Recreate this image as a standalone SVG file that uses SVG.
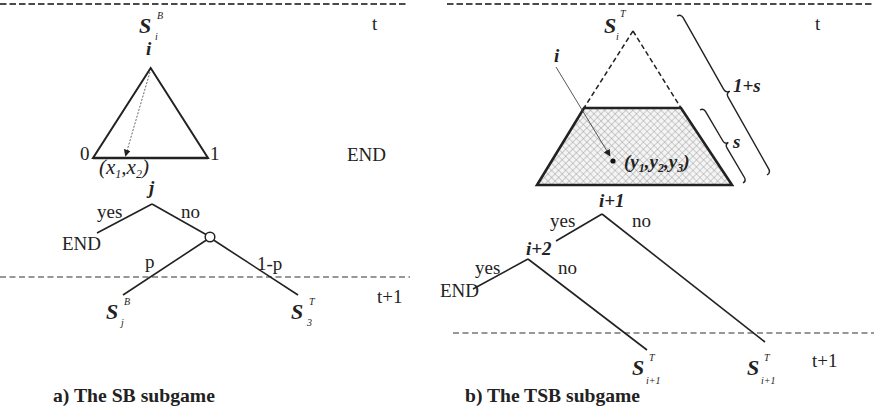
<svg xmlns="http://www.w3.org/2000/svg" width="874" height="412" viewBox="0 0 874 412">
  <style>
    .t { font-family: "Liberation Serif", "DejaVu Serif", serif; font-size: 19px; fill: #222; }
    .bi { font-family: "Liberation Serif", "DejaVu Serif", serif; font-size: 19px; font-weight: bold; font-style: italic; fill: #222; }
    .it { font-family: "Liberation Serif", "DejaVu Serif", serif; font-size: 21px; font-style: italic; fill: #222; }
    .st { font-family: "Liberation Serif", "DejaVu Serif", serif; font-size: 22px; font-weight: bold; font-style: italic; fill: #222; }
    .sm { font-family: "Liberation Serif", "DejaVu Serif", serif; font-size: 10px; font-style: italic; fill: #222; }
    .cap { font-family: "Liberation Serif", "DejaVu Serif", serif; font-size: 19px; font-weight: bold; fill: #222; }
    .dash-top { stroke: #111; stroke-width: 1.6; stroke-dasharray: 6.5 3; fill: none; }
    .dash-bot { stroke: #333; stroke-width: 1.2; stroke-dasharray: 6 3.5; fill: none; }
    .edge { stroke: #222; stroke-width: 1.6; fill: none; }
    .shape { stroke: #222; stroke-width: 2; fill: none; }
    .brace { stroke: #222; stroke-width: 1.4; fill: none; }
  </style>
  <defs>
    <marker id="arr" viewBox="0 0 10 10" refX="9" refY="5" markerWidth="7" markerHeight="7" markerUnits="userSpaceOnUse" orient="auto">
      <path d="M0,0 L10,5 L0,10 z" fill="#222"/>
    </marker>
    <pattern id="hatch" width="5" height="5" patternUnits="userSpaceOnUse" patternTransform="rotate(45)">
      <rect width="5" height="5" fill="#f4f4f4"/>
      <path d="M0,0 H5 M0,0 V5" stroke="#9a9a9a" stroke-width="0.9"/>
    </pattern>
  </defs>

  <!-- time lines -->
  <g id="timelines">
    <line class="dash-top" x1="0" y1="4" x2="408" y2="4"/>
    <line class="dash-top" x1="447" y1="4" x2="874" y2="4"/>
    <line class="dash-bot" x1="0" y1="277" x2="410" y2="277"/>
    <line class="dash-bot" x1="453" y1="333" x2="874" y2="333"/>
    <text class="t" x="372" y="30">t</text>
    <text class="t" x="377" y="303">t+1</text>
    <text class="t" x="815" y="30">t</text>
    <text class="t" x="812" y="367">t+1</text>
  </g>

  <!-- ===== Panel a ===== -->
  <g id="a-state-SiB">
    <text class="st" x="139" y="33">S</text>
    <text class="sm" x="157" y="19">B</text>
    <text class="sm" x="155" y="40">i</text>
  </g>
  <g id="a-triangle">
    <text class="bi" x="146" y="55">i</text>
    <path class="shape" d="M150.7,68 L93,158 L208,158 Z"/>
    <line x1="93" y1="158" x2="208" y2="158" stroke="#222" stroke-width="2.6"/>
    <text class="t" x="80" y="160">0</text>
    <text class="t" x="210" y="160">1</text>
    <line x1="150" y1="72" x2="125.5" y2="156" stroke="#555" stroke-width="0.9" stroke-dasharray="2 1.5" marker-end="url(#arr)"/>
    <text class="it" x="99" y="174">(x<tspan font-size="12" dy="4">1</tspan><tspan dy="-4">,x</tspan><tspan font-size="12" dy="4">2</tspan><tspan dy="-4">)</tspan></text>
  </g>
  <g id="a-end-top">
    <text class="t" x="347" y="161">END</text>
  </g>
  <g id="a-node-j">
    <text class="bi" x="149" y="194">j</text>
  </g>
  <g id="a-end">
    <text class="t" x="62" y="250">END</text>
  </g>
  <g id="a-chance">
    <circle cx="210" cy="237" r="4.8" fill="#fff" stroke="#222" stroke-width="1.5"/>
  </g>
  <g id="a-state-SjB">
    <text class="st" x="106" y="319">S</text>
    <text class="sm" x="124" y="305">B</text>
    <text class="sm" x="121" y="326">j</text>
  </g>
  <g id="a-state-S3T">
    <text class="st" x="291" y="319">S</text>
    <text class="sm" x="309" y="305">T</text>
    <text class="sm" x="307" y="326">3</text>
  </g>

  <!-- ===== Panel b ===== -->
  <g id="b-state-SiT">
    <text class="st" x="604" y="33">S</text>
    <text class="sm" x="620" y="17">T</text>
    <text class="sm" x="616" y="40">i</text>
  </g>
  <g id="b-trapezoid">
    <path d="M633,31 L584,108 M633,31 L681,108" stroke="#222" stroke-width="1.5" stroke-dasharray="5 3" fill="none"/>
    <path d="M584,108 L681,108 L732,185 L537,185 Z" fill="url(#hatch)" stroke="#222" stroke-width="2.6"/>
    <text class="bi" x="554" y="62">i</text>
    <line x1="556" y1="67" x2="610" y2="156" stroke="#444" stroke-width="0.9" marker-end="url(#arr)"/>
    <circle cx="613" cy="161" r="2.6" fill="#111"/>
    <text class="bi" x="624" y="168" font-size="21">(y<tspan font-size="12" dy="4">1</tspan><tspan dy="-4">,y</tspan><tspan font-size="12" dy="4">2</tspan><tspan dy="-4">,y</tspan><tspan font-size="12" dy="4">3</tspan><tspan dy="-4">)</tspan></text>
  </g>
  <g id="b-brace-1s">
    <path class="brace" transform="translate(677,16) rotate(60.5)" d="M0,0 Q0,-4.5 4.5,-4.5 L86.85,-4.5 Q91.35,-4.5 91.35,-9 Q91.35,-4.5 95.85,-4.5 L178.2,-4.5 Q182.7,-4.5 182.7,0"/>
    <text class="bi" x="733" y="92">1+s</text>
  </g>
  <g id="b-brace-s">
    <path class="brace" transform="translate(700,110) rotate(59.5)" d="M0,0 Q0,-4 4,-4 L38.35,-4 Q42.35,-4 42.35,-8 Q42.35,-4 46.35,-4 L80.7,-4 Q84.7,-4 84.7,0"/>
    <text class="bi" x="733" y="148">s</text>
  </g>
  <g id="b-node-i1">
    <text class="bi" x="599" y="207">i+1</text>
  </g>
  <g id="b-node-i2">
    <text class="bi" x="526" y="255">i+2</text>
  </g>
  <g id="b-end">
    <text class="t" x="440" y="297">END</text>
  </g>
  <g id="b-state-Si1T-a">
    <text class="st" x="632" y="375">S</text>
    <text class="sm" x="649" y="361">T</text>
    <text class="sm" x="646" y="384" font-size="9">i+1</text>
  </g>
  <g id="b-state-Si1T-b">
    <text class="st" x="747" y="375">S</text>
    <text class="sm" x="764" y="361">T</text>
    <text class="sm" x="761" y="384" font-size="9">i+1</text>
  </g>

  <!-- connectors -->
  <g id="connectors">
    <line class="edge" x1="152" y1="204" x2="97" y2="233"/>
    <line class="edge" x1="152" y1="204" x2="206" y2="234.5"/>
    <line class="edge" x1="206.5" y1="240" x2="123" y2="295"/>
    <line class="edge" x1="213.5" y1="240" x2="298" y2="295"/>
    <line class="edge" x1="602" y1="214" x2="556" y2="241"/>
    <line class="edge" x1="602" y1="214" x2="765" y2="342"/>
    <line class="edge" x1="528" y1="259" x2="473" y2="289"/>
    <line class="edge" x1="528" y1="259" x2="647" y2="350"/>
    <text class="t" x="97" y="218">yes</text>
    <text class="t" x="181" y="218">no</text>
    <text class="t" x="145" y="268">p</text>
    <text class="t" x="257" y="270">1-p</text>
    <text class="t" x="550" y="227">yes</text>
    <text class="t" x="632" y="227">no</text>
    <text class="t" x="475" y="274">yes</text>
    <text class="t" x="558" y="274">no</text>
  </g>

  <g id="captions">
    <text class="cap" x="53" y="402" textLength="162" lengthAdjust="spacingAndGlyphs">a) The SB subgame</text>
    <text class="cap" x="465" y="402" textLength="175" lengthAdjust="spacingAndGlyphs">b) The TSB subgame</text>
  </g>
</svg>
